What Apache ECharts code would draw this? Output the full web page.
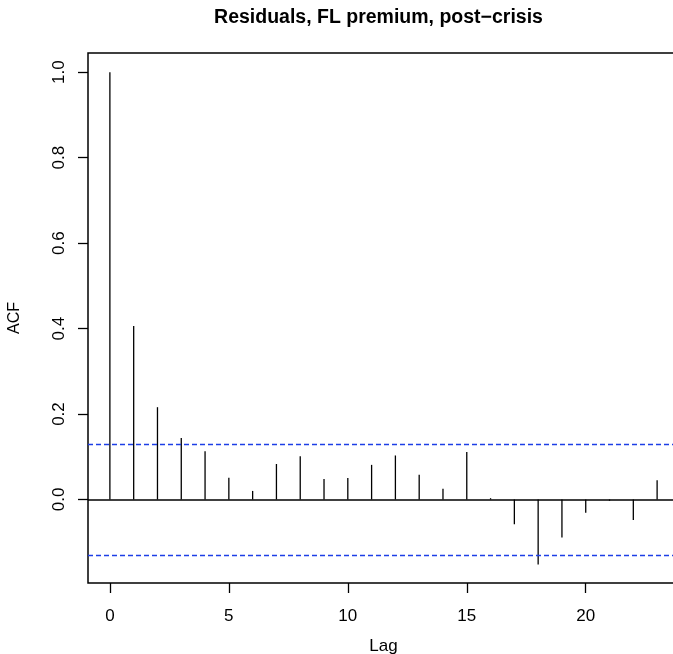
<!DOCTYPE html>
<html>
<head>
<meta charset="utf-8">
<title>ACF residuals</title>
<script src="https://cdn.jsdelivr.net/npm/echarts@6.0.0/dist/echarts.min.js"></script>
<style>
  html, body { margin: 0; padding: 0; background: #fff; }
  #chart { width: 673px; height: 654px; }
</style>
</head>
<body>
<div id="chart"></div>
<script>
  // acf of residuals
  const lags = [0, 1, 2, 3, 4, 5, 6, 7, 8, 9, 10, 11, 12, 13, 14, 15, 16, 17, 18, 19, 20, 21, 22, 23];
  const acfValues = [1.0, 0.406, 0.216, 0.144, 0.113, 0.051, 0.020, 0.083, 0.101, 0.048, 0.050, 0.081,
    0.103, 0.058, 0.025, 0.111, 0.003, -0.058, -0.152, -0.089, -0.031, -0.003, -0.048, 0.045];
  const ciBound = 0.1298;
  const xTicks = [0, 5, 10, 15, 20];
  const yTicks = [0, 0.2, 0.4, 0.6, 0.8, 1.0];

  const font = "'Liberation Sans', Arial, Helvetica, sans-serif";

  const chart = echarts.init(document.getElementById('chart'));

  // one horizontal reference line across the whole plot
  function hline(value, style) {
    return {
      type: 'line',
      data: [],
      markLine: {
        silent: true,
        symbol: 'none',
        label: { show: false },
        emphasis: { disabled: true },
        lineStyle: style,
        data: [{ yAxis: value }]
      }
    };
  }

  const ciStyle = { color: '#1d3fe6', width: 1.3, type: [5, 3], opacity: 1 };

  const option = {
    animation: false,
    backgroundColor: '#ffffff',
    title: {
      text: 'Residuals, FL premium, post\u2212crisis',
      left: 378.5,
      top: 8,
      padding: 0,
      textAlign: 'center',
      textStyle: {
        fontFamily: font,
        fontSize: 19.5,
        fontWeight: 'bold',
        color: '#000'
      }
    },
    grid: {
      left: 88,
      top: 53,
      width: 591,
      height: 530,
      outerBoundsMode: 'none',
      show: true,
      borderColor: '#000',
      borderWidth: 1.5,
      backgroundColor: 'transparent'
    },
    xAxis: {
      type: 'value',
      min: -0.92,
      max: 23.92,
      name: 'Lag',
      nameLocation: 'middle',
      nameGap: 55,
      nameTextStyle: { fontFamily: font, fontSize: 17, color: '#000' },
      axisLine: { show: false, onZero: false },
      splitLine: { show: false },
      axisTick: {
        show: true,
        length: 10,
        customValues: xTicks,
        lineStyle: { color: '#000', width: 1.3 }
      },
      axisLabel: {
        customValues: xTicks,
        margin: 25,
        fontFamily: font,
        fontSize: 17,
        color: '#000'
      }
    },
    yAxis: {
      type: 'value',
      min: -0.1955,
      max: 1.045,
      name: 'ACF',
      nameLocation: 'middle',
      nameGap: 65,
      nameTextStyle: { fontFamily: font, fontSize: 16, color: '#000' },
      axisLine: { show: false, onZero: false },
      splitLine: { show: false },
      axisTick: {
        show: true,
        length: 10,
        customValues: yTicks,
        lineStyle: { color: '#000', width: 1.3 }
      },
      axisLabel: {
        customValues: yTicks,
        rotate: 90,
        margin: 20,
        fontFamily: font,
        fontSize: 17,
        color: '#000',
        formatter: v => v.toFixed(1)
      }
    },
    series: [
      {
        type: 'custom',
        data: lags.map((lag, i) => [lag, acfValues[i]]),
        renderItem: function (params, api) {
          const base = api.coord([api.value(0), 0]);
          const tip = api.coord([api.value(0), api.value(1)]);
          return {
            type: 'line',
            shape: { x1: base[0], y1: base[1], x2: tip[0], y2: tip[1] },
            style: { stroke: '#000', lineWidth: 1.3 }
          };
        }
      },
      hline(0, { color: '#000', width: 1.5, type: 'solid', opacity: 1 }),
      hline(ciBound, ciStyle),
      hline(-ciBound, ciStyle)
    ]
  };

  chart.setOption(option);
</script>
</body>
</html>
